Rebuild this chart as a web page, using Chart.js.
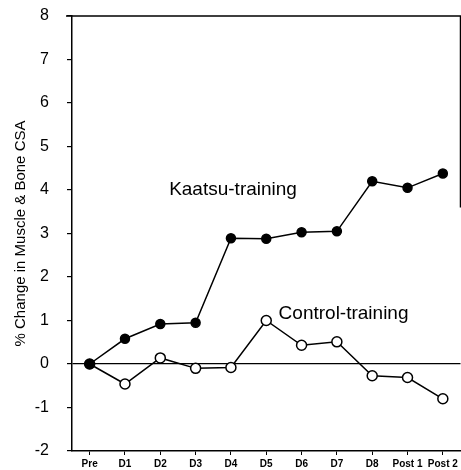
<!DOCTYPE html>
<html lang="en">
<head>
    <meta charset="UTF-8">
    <title>Kaatsu vs Control training</title>
    <script src="https://cdn.jsdelivr.net/npm/chart.js"></script>
    <style>
        html, body { margin: 0; padding: 0; background: #fff; overflow: hidden; }
        .chart-container { width: 467px; height: 470px; }
    </style>
</head>
<body>
    <div class="chart-container">
        <canvas id="csaChart"></canvas>
    </div>

    <script>
        // Dados
        const days = ['Pre', 'D1', 'D2', 'D3', 'D4', 'D5', 'D6', 'D7', 'D8', 'Post 1', 'Post 2'];
        const kaatsu = [0, 0.58, 0.92, 0.95, 2.89, 2.88, 3.03, 3.05, 4.2, 4.05, 4.38];
        const control = [0, -0.46, 0.14, -0.1, -0.08, 1.0, 0.43, 0.51, -0.27, -0.31, -0.8];
        const yTicks = [-2, -1, 0, 1, 2, 3, 4, 5, 6, 7, 8];

        const font = "'Liberation Sans', Arial, sans-serif";

        // moldura superior/direita e os rótulos das séries
        const framePlugin = {
            id: 'frame',
            afterDraw(chart) {
                const { ctx, chartArea, scales } = chart;
                ctx.save();
                ctx.strokeStyle = '#000';
                ctx.lineWidth = 1.5;
                ctx.beginPath();
                ctx.moveTo(chartArea.left - 6, chartArea.top);
                ctx.lineTo(chartArea.right, chartArea.top);
                ctx.lineTo(chartArea.right, scales.y.getPixelForValue(3.6));
                ctx.stroke();

                ctx.fillStyle = '#000';
                ctx.font = '19px ' + font;
                ctx.textBaseline = 'middle';
                ctx.fillText('Kaatsu-training', scales.x.getPixelForValue(2.25), scales.y.getPixelForValue(4.0));
                ctx.fillText('Control-training', scales.x.getPixelForValue(5.35), scales.y.getPixelForValue(1.15));
                ctx.restore();
            }
        };

        const ctx = document.getElementById('csaChart').getContext('2d');
        new Chart(ctx, {
            type: 'line',
            data: {
                labels: days,
                datasets: [{
                    label: 'Kaatsu-training',
                    data: kaatsu,
                    borderColor: '#000',
                    borderWidth: 1.5,
                    backgroundColor: '#000',
                    pointBackgroundColor: '#000',
                    pointBorderColor: '#000',
                    pointRadius: 4.5,
                    tension: 0
                }, {
                    label: 'Control-training',
                    data: control,
                    borderColor: '#000',
                    borderWidth: 1.5,
                    pointBackgroundColor: '#fff',
                    pointBorderColor: '#000',
                    pointBorderWidth: 1.5,
                    pointRadius: 5,
                    tension: 0
                }]
            },
            options: {
                responsive: true,
                maintainAspectRatio: false,
                animation: false,
                layout: { padding: { top: 16, right: 0, left: 0, bottom: 0 } },
                plugins: {
                    legend: { display: false },
                    tooltip: { enabled: false }
                },
                scales: {
                    x: {
                        offset: true,
                        grid: {
                            display: true,
                            drawOnChartArea: false,
                            tickLength: 4,
                            color: '#000',
                            lineWidth: 1
                        },
                        border: { color: '#000', width: 1.5 },
                        ticks: {
                            color: '#000',
                            maxRotation: 0,
                            autoSkip: false,
                            padding: 3,
                            font: { family: font, size: 10, weight: 'bold' }
                        },
                        afterFit: s => {
                            s.height = 19;
                            s.paddingLeft = 0;
                            s.paddingRight = 0;
                        }
                    },
                    y: {
                        min: -2,
                        max: 8,
                        afterBuildTicks: s => { s.ticks = yTicks.map(v => ({ value: v })); },
                        grid: {
                            drawTicks: true,
                            tickLength: 5,
                            tickColor: '#000',
                            color: c => c.tick && c.tick.value === 0 ? '#000' : 'rgba(0,0,0,0)',
                            lineWidth: 1.2
                        },
                        border: { color: '#000', width: 1.5 },
                        ticks: {
                            color: '#000',
                            padding: 18,
                            font: { family: font, size: 16 }
                        },
                        title: {
                            display: true,
                            text: '% Change in Muscle & Bone CSA',
                            color: '#000',
                            padding: { top: 12, bottom: 0 },
                            font: { family: font, size: 15 }
                        },
                        afterFit: s => {
                            s.width = 72;
                            s.paddingTop = 0;
                            s.paddingBottom = 0;
                        }
                    }
                }
            },
            plugins: [framePlugin]
        });
    </script>
</body>
</html>
